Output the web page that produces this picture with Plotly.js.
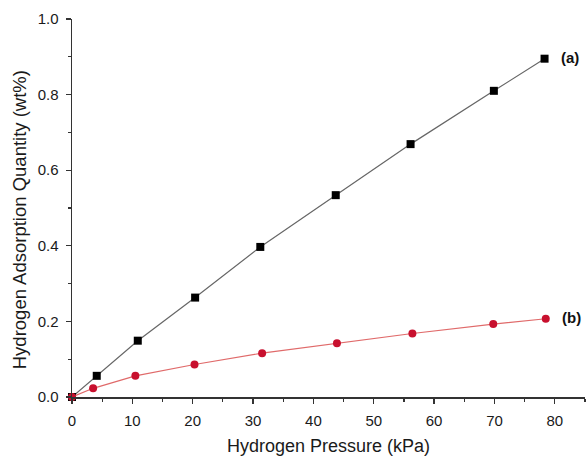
<!DOCTYPE html>
<html><head><meta charset="utf-8">
<script src="https://cdn.plot.ly/plotly-3.0.1.min.js"></script>
<style>html,body{margin:0;padding:0;background:#fff}</style>
</head><body><div id="chart" style="width:587px;height:456px"></div>
<script>
const pressureA = [0, 4.1, 10.9, 20.4, 31.2, 43.7, 56.1, 69.9, 78.3];
const uptakeA   = [0, 0.056, 0.149, 0.263, 0.397, 0.534, 0.669, 0.810, 0.895];
const pressureB = [0, 3.5, 10.5, 20.3, 31.5, 43.9, 56.4, 69.8, 78.5];
const uptakeB   = [0, 0.023, 0.056, 0.086, 0.116, 0.142, 0.168, 0.193, 0.207];
const seriesLabels = ["(a)", "(b)"];
const xTitle = 'Hydrogen Pressure (kPa)';
const yTitle = 'Hydrogen Adsorption Quantity (wt%)';

const traces = [
  {x: pressureA, y: uptakeA, mode: 'lines+markers', type: 'scatter', cliponaxis: false,
   line: {color: '#666666', width: 1.2},
   marker: {symbol: 'square', size: 8, color: '#000000'}},
  {x: pressureB, y: uptakeB, mode: 'lines+markers', type: 'scatter', cliponaxis: false,
   line: {color: '#e06a6a', width: 1.2},
   marker: {symbol: 'circle', size: 8, color: '#c8102e'}}
];

const layout = {
  width: 587, height: 456,
  margin: {l: 72, r: 2, t: 19, b: 59},
  showlegend: false,
  paper_bgcolor: '#fff', plot_bgcolor: '#fff',
  font: {family: 'Liberation Sans, Arial, sans-serif', color: '#1a1a1a'},
  xaxis: {
    range: [0, 85], tickvals: [0,10,20,30,40,50,60,70,80],
    ticks: 'outside', ticklen: 5, tickwidth: 1.3, tickcolor: '#333', ticklabelstandoff: 4,
    minor: {dtick: 5, tick0: 5, ticks: 'outside', ticklen: 3, tickwidth: 1.2, tickcolor: '#333'},
    showline: true, linecolor: '#333', linewidth: 1.5, showgrid: false, zeroline: false,
    tickfont: {size: 15}, 
    title: {text: xTitle, font: {size: 18}, standoff: 30}
  },
  yaxis: {
    range: [0, 1.0], tickvals: [0,0.2,0.4,0.6,0.8,1.0], ticktext: ['0.0','0.2','0.4','0.6','0.8','1.0'],
    ticks: 'outside', ticklen: 5, tickwidth: 1.3, tickcolor: '#333', ticklabelstandoff: 4,
    minor: {dtick: 0.1, tick0: 0.1, ticks: 'outside', ticklen: 3, tickwidth: 1.2, tickcolor: '#333'},
    showline: true, linecolor: '#333', linewidth: 1.5, showgrid: false, zeroline: false,
    tickfont: {size: 15}
  },
  annotations: [
    {x: -0.103, y: 0.468, xref: 'paper', yref: 'paper', text: yTitle, textangle: -90,
     showarrow: false, xanchor: 'center', yanchor: 'middle', font: {size: 18.5, color: '#1a1a1a'}},
    {x: pressureA[pressureA.length-1], y: uptakeA[uptakeA.length-1], xref: 'x', yref: 'y',
     text: '<b>' + seriesLabels[0] + '</b>', showarrow: false, xanchor: 'left', xshift: 14, yshift: 1,
     font: {size: 15, color: '#111'}},
    {x: pressureB[pressureB.length-1], y: uptakeB[uptakeB.length-1], xref: 'x', yref: 'y',
     text: '<b>' + seriesLabels[1] + '</b>', showarrow: false, xanchor: 'left', xshift: 14, yshift: 1,
     font: {size: 15, color: '#111'}}
  ]
};
Plotly.newPlot('chart', traces, layout, {displayModeBar: false, staticPlot: true});
</script></body></html>
